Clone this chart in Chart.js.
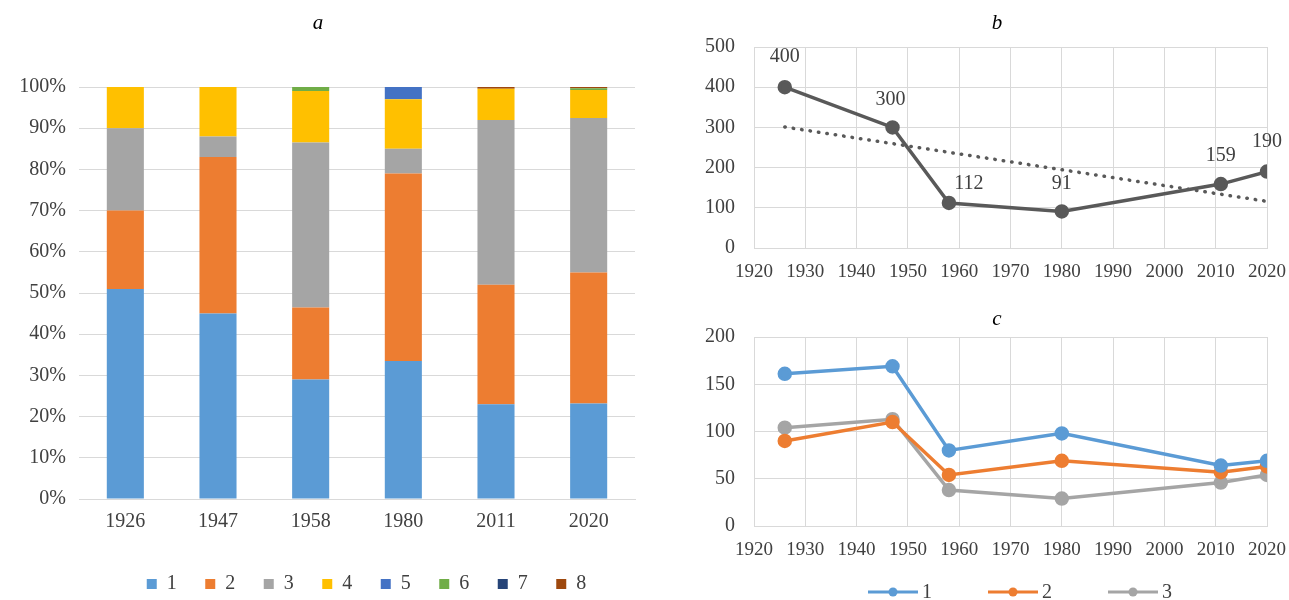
<!DOCTYPE html>
<html>
<head>
<meta charset="utf-8">
<title>Population charts</title>
<script src="https://cdn.jsdelivr.net/npm/chart.js@4.4.1/dist/chart.umd.min.js"></script>
<style>
    body { margin: 0; background: #fff; width: 1289px; height: 600px; position: relative; overflow: hidden; }
    .panel { position: absolute; }
    .panel canvas { display: block; }
    .title {
        position: absolute;
        font-family: 'Liberation Serif', serif;
        font-style: italic;
        font-size: 21px;
        color: #000;
        transform: translate(-50%, -50%);
    }
</style>
</head>
<body>
<div class="panel" style="left:0;top:0;width:640px;height:600px"><canvas id="chartA"></canvas></div>
<div class="panel" style="left:680px;top:0;width:609px;height:300px"><canvas id="chartB"></canvas></div>
<div class="panel" style="left:680px;top:300px;width:609px;height:300px"><canvas id="chartC"></canvas></div>
<div class="title" style="left:318px;top:22px">a</div>
<div class="title" style="left:997px;top:22px">b</div>
<div class="title" style="left:997px;top:318px">c</div>

<script>
// ---- data ----
const censusYears = ['1926', '1947', '1958', '1980', '2011', '2020'];
const share1 = [51, 45, 29, 33.5, 23, 23.2];
const share2 = [19, 38, 17.5, 45.5, 29, 31.8];
const share3 = [20, 5, 40, 6, 40, 37.5];
const share4 = [10, 12, 12.5, 12, 7.6, 6.8];
const share5 = [0, 0, 0, 3, 0, 0];
const share6 = [0, 0, 1, 0, 0, 0.4];
const share7 = [0, 0, 0, 0, 0, 0];
const share8 = [0, 0, 0, 0, 0.4, 0.3];
const shareLabels = ['1', '2', '3', '4', '5', '6', '7', '8'];

const popYears = [1926, 1947, 1958, 1980, 2011, 2020];
const popTotal = [400, 300, 112, 91, 159, 190];
const trendYears = [1926, 2020];
const trendTotal = [301, 116];

const group1 = [161, 169, 80, 98, 64, 69];
const group2 = [90, 110, 54, 69, 57, 63];
const group3 = [104, 113, 38, 29, 46, 54];
const groupLabels = ['1', '2', '3'];

// ---- styles ----
const SERIF = "'Liberation Serif', 'Times New Roman', serif";
const TICK = '#404040';
const GRID = '#d9d9d9';
const excel = ['#5b9bd5', '#ed7d31', '#a5a5a5', '#ffc000', '#4472c4', '#70ad47', '#264478', '#9e480e'];

Chart.defaults.animation = false;
Chart.defaults.font.family = SERIF;
Chart.defaults.color = TICK;

const toPoints = (xs, ys) => xs.map((x, i) => ({ x: x, y: ys[i] }));

// nudge the built-in legend after layout (Excel legend is off-centre)
const legendShift = {
    id: 'legendShift',
    afterLayout(chart, args, opts) {
        const lg = chart.legend;
        if (!lg) return;
        lg.left += opts.dx || 0;
        lg.right += opts.dx || 0;
        lg.top += opts.dy || 0;
        lg.bottom += opts.dy || 0;
    }
};

// ---- a: stacked 100% bars ----
const shares = [share1, share2, share3, share4, share5, share6, share7, share8];
new Chart(document.getElementById('chartA'), {
    type: 'bar',
    data: {
        labels: censusYears,
        datasets: shares.map((s, i) => ({
            label: shareLabels[i],
            data: s,
            backgroundColor: excel[i],
            borderWidth: 0,
            barPercentage: 0.4,
            categoryPercentage: 1
        }))
    },
    plugins: [legendShift],
    options: {
        responsive: true,
        maintainAspectRatio: false,
        layout: { padding: { left: 0, right: 5, top: 87, bottom: 0 } },
        plugins: {
            legend: {
                position: 'bottom',
                labels: {
                    boxWidth: 10,
                    boxHeight: 10,
                    padding: 28.5,
                    color: TICK,
                    font: { size: 20 }
                }
            },
            legendShift: { dx: 49, dy: 4 },
            tooltip: { enabled: false }
        },
        scales: {
            x: {
                stacked: true,
                grid: { display: false, drawTicks: false },
                border: { color: GRID },
                ticks: { color: TICK, font: { size: 20 }, padding: 11 },
                afterFit: s => { s.height = 42.5; }
            },
            y: {
                stacked: true,
                min: 0,
                max: 100,
                ticks: { stepSize: 10, color: TICK, font: { size: 20 }, padding: 13, callback: v => v + '%' },
                grid: { color: GRID, drawTicks: false },
                border: { display: false },
                afterFit: s => { s.width = 79; }
            }
        }
    }
});

// ---- b: total with trend ----
const valueLabels = {
    id: 'valueLabels',
    afterDatasetsDraw(chart, args, opts) {
        const meta = chart.getDatasetMeta(0);
        const ctx = chart.ctx;
        ctx.save();
        ctx.font = '20px ' + SERIF;
        ctx.fillStyle = TICK;
        ctx.textAlign = 'center';
        ctx.textBaseline = 'middle';
        meta.data.forEach((pt, i) => {
            const off = opts.offsets[i] || [0, -29];
            ctx.fillText(String(chart.data.datasets[0].data[i].y), pt.x + off[0], pt.y + off[1]);
        });
        ctx.restore();
    }
};

// year axis shared by b and c; the label overhang is left to the layout padding
const yearAxis = (height) => ({
    type: 'linear',
    min: 1920,
    max: 2020,
    ticks: { stepSize: 10, color: TICK, font: { size: 19 }, padding: 13, callback: v => String(v) },
    grid: { color: GRID, drawTicks: false },
    border: { color: GRID },
    afterFit: s => {
        s.height = height;
        s.paddingLeft = 0;
        s.paddingRight = 0;
    }
});

new Chart(document.getElementById('chartB'), {
    type: 'line',
    data: {
        datasets: [{
            label: 'total',
            data: toPoints(popYears, popTotal),
            borderColor: '#595959',
            backgroundColor: '#595959',
            borderWidth: 3.5,
            pointRadius: 5.5,
            tension: 0
        }, {
            label: 'trend',
            data: toPoints(trendYears, trendTotal),
            borderColor: '#595959',
            borderWidth: 3.5,
            borderDash: [0.5, 8],
            borderCapStyle: 'round',
            pointRadius: 0
        }]
    },
    plugins: [valueLabels],
    options: {
        responsive: true,
        maintainAspectRatio: false,
        layout: { padding: { left: 0, right: 22, top: 47, bottom: 0 } },
        plugins: {
            legend: { display: false },
            tooltip: { enabled: false },
            valueLabels: { offsets: [[0, -30], [-2, -28], [20, -19], [0, -28], [0, -28], [0, -30]] }
        },
        scales: {
            x: yearAxis(52),
            y: {
                min: 0,
                max: 500,
                ticks: { stepSize: 100, color: TICK, font: { size: 20 }, padding: 19 },
                grid: { color: GRID, drawTicks: false },
                border: { display: false },
                afterFit: s => { s.width = 74; }
            }
        }
    }
});

// ---- c: three groups ----
// Excel-style legend: short line with a dot, then the label
const lineLegend = {
    id: 'lineLegend',
    afterDraw(chart, args, opts) {
        const ctx = chart.ctx;
        const sets = chart.data.datasets;
        ctx.save();
        ctx.font = opts.size + 'px ' + SERIF;
        ctx.textBaseline = 'middle';
        ctx.textAlign = 'left';
        let x = opts.x;
        sets.forEach(d => {
            ctx.strokeStyle = d.borderColor;
            ctx.lineWidth = 3;
            ctx.beginPath();
            ctx.moveTo(x, opts.y);
            ctx.lineTo(x + opts.lineLen, opts.y);
            ctx.stroke();
            ctx.fillStyle = d.borderColor;
            ctx.beginPath();
            ctx.arc(x + opts.lineLen / 2, opts.y, 4.5, 0, Math.PI * 2);
            ctx.fill();
            ctx.fillStyle = TICK;
            ctx.fillText(d.label, x + opts.lineLen + 4, opts.y + 1);
            x += opts.step;
        });
        ctx.restore();
    }
};

const groups = [group1, group2, group3];
new Chart(document.getElementById('chartC'), {
    type: 'line',
    data: {
        datasets: groups.map((g, i) => ({
            label: groupLabels[i],
            data: toPoints(popYears, g),
            borderColor: excel[i],
            backgroundColor: excel[i],
            borderWidth: 3.5,
            pointRadius: 5.5,
            tension: 0
        }))
    },
    plugins: [lineLegend],
    options: {
        responsive: true,
        maintainAspectRatio: false,
        layout: { padding: { left: 0, right: 22, top: 37, bottom: 34 } },
        plugins: {
            legend: { display: false },
            lineLegend: { x: 188, y: 292, lineLen: 50, step: 120, size: 20 },
            tooltip: { enabled: false }
        },
        scales: {
            x: yearAxis(40),
            y: {
                min: 0,
                max: 200,
                ticks: { stepSize: 50, color: TICK, font: { size: 20 }, padding: 19 },
                grid: { color: GRID, drawTicks: false },
                border: { display: false },
                afterFit: s => { s.width = 74; }
            }
        }
    }
});
</script>
</body>
</html>
